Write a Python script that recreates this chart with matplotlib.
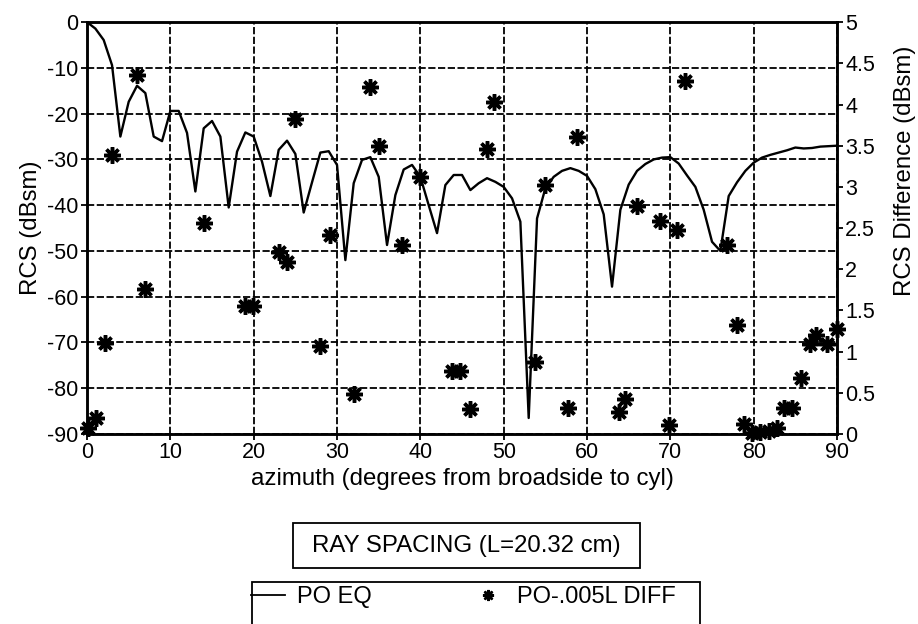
import matplotlib
matplotlib.use("Agg")
import matplotlib.pyplot as plt
from matplotlib.lines import Line2D
from matplotlib.patches import Rectangle

plt.rcParams['font.family'] = ['Liberation Sans', 'DejaVu Sans']
plt.rcParams['axes.unicode_minus'] = False

# PO EQ curve, RCS (dBsm) vs azimuth, 1 degree steps
azimuth = list(range(0, 91))
rcs_po_eq = [
    0, -1.4, -3.9, -9.4, -25, -17.4, -13.9, -15.5, -25, -26,
    -19.4, -19.4, -24.2, -37, -23.2, -21.6, -25, -40.5, -28.3, -24.1,
    -25, -30.5, -38, -27.9, -25.9, -28.8, -41.6, -35, -28.5, -28.2,
    -31.2, -52, -35.2, -30.1, -29.5, -33.8, -48.7, -37.8, -32.2, -31.2,
    -33.8, -40, -46.1, -35.6, -33.4, -33.4, -36.7, -35.2, -34.1, -34.9,
    -36, -38.5, -43.6, -86.5, -42.9, -36.3, -33.8, -32.5, -31.9, -32.5,
    -33.6, -36.5, -42, -57.8, -41, -35.5, -32.5, -31, -30, -29.6,
    -29.5, -30.9, -33.5, -36, -41, -48, -50, -38, -35, -32.5,
    -30.7, -29.6, -29, -28.5, -28, -27.4, -27.6, -27.5, -27.2, -27.1,
    -27,
]

# PO-.005L DIFF points, RCS difference (dBsm)
diff_az = [
    0.1, 1.1, 2.1, 3.0, 6.0, 7.0, 14.0, 18.9, 19.9, 23.0,
    24.0, 25.0, 28.0, 29.1, 32.0, 34.0, 35.0, 37.8, 40.0, 43.8,
    44.8, 46.0, 48.0, 48.8, 53.7, 55.0, 57.7, 58.8, 63.8, 64.6,
    66.0, 68.8, 70.8, 69.8, 71.8, 76.8, 78.0, 78.8, 79.8, 80.8,
    81.8, 82.8, 83.6, 84.6, 85.7, 86.7, 87.5, 88.8, 90.0,
]
diff_val = [
    0.07, 0.2, 1.11, 3.39, 4.36, 1.76, 2.56, 1.55, 1.55, 2.21,
    2.09, 3.83, 1.07, 2.42, 0.49, 4.21, 3.5, 2.29, 3.12, 0.76,
    0.76, 0.3, 3.46, 4.03, 0.88, 3.02, 0.31, 3.61, 0.27, 0.42,
    2.77, 2.59, 2.48, 0.11, 4.28, 2.29, 1.32, 0.12, 0.01, 0.03,
    0.04, 0.07, 0.31, 0.32, 0.68, 1.09, 1.2, 1.09, 1.28,
]

x_ticks = list(range(0, 91, 10))
left_ticks = list(range(-90, 1, 10))
right_ticks = [0, 0.5, 1, 1.5, 2, 2.5, 3, 3.5, 4, 4.5, 5]
right_labels = ['0', '0.5', '1', '1.5', '2', '2.5', '3', '3.5', '4', '4.5', '5']

star = (8, 2, 0)
tick_fs = 15.5
label_fs = 17.3

fig = plt.figure(figsize=(9.18, 6.24), dpi=100)
ax = fig.add_axes([0.0948, 0.3045, 0.817, 0.660])

ax.plot(azimuth, rcs_po_eq, color='black', lw=1.7, zorder=3)
ax.set_xlim(0, 90)
ax.set_ylim(-90, 0)
ax.set_xticks(x_ticks)
ax.set_yticks(left_ticks)
ax.grid(True, color='black', lw=1.3, linestyle=(0, (4, 1.4)))
ax.tick_params(direction='out', length=4, width=1.3, labelsize=tick_fs, pad=2)
for s in ax.spines.values():
    s.set_linewidth(1.8)
ax.set_xlabel('azimuth (degrees from broadside to cyl)', fontsize=label_fs)
ax.xaxis.set_label_coords(0.5, -0.083)
ax.set_ylabel('RCS (dBsm)', fontsize=label_fs)
ax.yaxis.set_label_coords(-0.06, 0.5)

ax2 = ax.twinx()
ax2.set_ylim(0, 5)
ax2.set_yticks(right_ticks)
ax2.set_yticklabels(right_labels)
ax2.tick_params(direction='out', length=4, width=1.3, labelsize=tick_fs, pad=2)
ax2.plot(diff_az, diff_val, linestyle='none', marker=star, ms=12, mew=2.5,
         color='black', clip_on=False, zorder=4)
ax2.set_ylabel('RCS Difference (dBsm)', fontsize=label_fs)
ax2.yaxis.set_label_coords(1.076, 0.64)
for s in ax2.spines.values():
    s.set_linewidth(1.8)

# title box under the axis label
fig.patches.append(Rectangle((293 / 918, 1 - 568 / 624), (640 - 293) / 918, 45 / 624,
                             transform=fig.transFigure, fill=False,
                             ec='black', lw=1.3))
fig.text(466 / 918, 1 - 546 / 624, 'RAY SPACING (L=20.32 cm)', ha='center',
         va='center', fontsize=label_fs)

# legend box runs off the bottom of the page
fig.patches.append(Rectangle((252 / 918, -0.1), (700 - 252) / 918, 0.067 + 0.1,
                             transform=fig.transFigure, fill=False,
                             ec='black', lw=1.3))
handles = [
    Line2D([], [], color='black', lw=1.3),
    Line2D([], [], linestyle='none', marker=star, ms=8, mew=1.8, color='black'),
]
fig.legend(handles, ['PO EQ', 'PO-.005L DIFF'], loc='center',
           bbox_to_anchor=(0.505, 0.043), ncol=2, frameon=False,
           fontsize=17, handlelength=1.45, handletextpad=0.5,
           columnspacing=4.2)

fig.savefig('out.png', dpi=100)
